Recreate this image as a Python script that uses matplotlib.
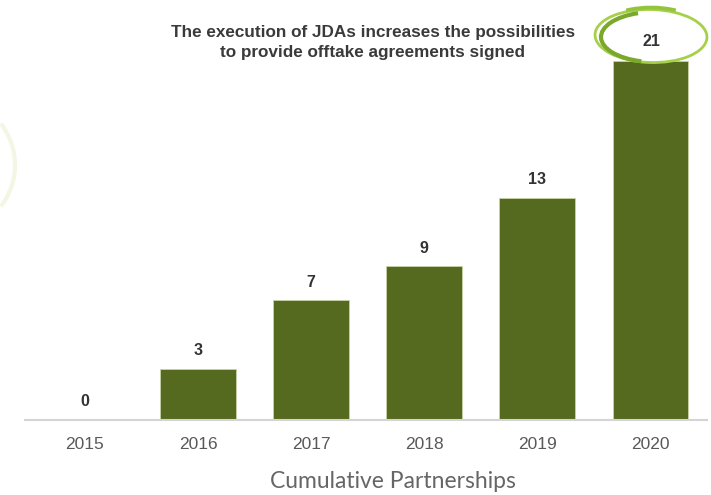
import matplotlib.pyplot as plt
from matplotlib.patches import Arc, Ellipse

years = ["2015", "2016", "2017", "2018", "2019", "2020"]
partnerships = [0, 3, 7, 9, 13, 21]

title_lines = [
    "The execution of JDAs increases the possibilities",
    "to provide offtake agreements signed",
]
x_label = "Cumulative Partnerships"

BAR_COLOR = "#556a1e"
SANS = ["Liberation Sans", "DejaVu Sans"]

W, H = 711, 495
fig = plt.figure(figsize=(W / 100, H / 100), dpi=100)
fig.patch.set_facecolor("white")

# faint watermark arc on the left edge
fig.patches.append(
    Arc((-70 / W, 1 - 165 / H), 170 / W, 150 / H, theta1=-40, theta2=40,
        transform=fig.transFigure, color="#f4f6e4", lw=3)
)

ax = fig.add_axes([25 / W, 75 / H, 682 / W, 400 / H])
positions = list(range(len(years)))
ax.bar(positions, partnerships, width=0.67, color=BAR_COLOR,
       edgecolor="#c9d3a8", linewidth=0.6, zorder=2)
ax.set_xlim(-0.53, 5.5)
ax.set_ylim(0, 23.4)

# last value sits inside the highlight ellipse, drawn further down
for pos, value in zip(positions[:-1], partnerships[:-1]):
    ax.annotate(str(value), (pos, value), xytext=(0, 13),
                textcoords="offset points", ha="center", va="center",
                fontsize=11.5, fontweight="bold", color="#333333",
                family=SANS, zorder=5)

ax.set_xticks(positions)
ax.set_xticklabels(years, family=SANS, fontsize=12.5, color="#595959")
ax.tick_params(axis="x", length=0, pad=12)
ax.set_yticks([])
for side in ["left", "right", "top"]:
    ax.spines[side].set_visible(False)
ax.spines["bottom"].set_color("#d4d4d4")
ax.spines["bottom"].set_linewidth(1.5)

# highlight swoosh around the last value
cx, cy = 651 / W, 1 - 36 / H
fig.patches.append(
    Ellipse((cx, cy), 112 / W, 53 / H, angle=-3, transform=fig.transFigure,
            facecolor="white", edgecolor="#a6d04a", lw=2.0, zorder=3)
)
fig.patches.append(
    Arc((cx + 3 / W, cy - 1 / H), 106 / W, 50 / H, theta1=115, theta2=250,
        transform=fig.transFigure, color="#7aa82a", lw=3.0, zorder=4)
)
fig.patches.append(
    Arc((cx, cy + 1 / H), 112 / W, 55 / H, theta1=55, theta2=125,
        transform=fig.transFigure, color="#93c43b", lw=2.6, zorder=4)
)
fig.text(cx, cy - 6 / H, str(partnerships[-1]), ha="center", va="center",
         fontsize=11.5, fontweight="bold", color="#333333", family=SANS,
         zorder=6)

fig.text(373 / W, 1 - 33 / H, title_lines[0], ha="center", va="center",
         fontsize=12.3, fontweight="bold", color="#3a3a3a", family=SANS)
fig.text(373 / W, 1 - 53 / H, title_lines[1], ha="center", va="center",
         fontsize=12.3, fontweight="bold", color="#3a3a3a", family=SANS)

fig.text(393 / W, 1 - 481 / H, x_label, ha="center", va="center",
         fontsize=16.5, color="#666666", family=["Lato", "DejaVu Sans"])

fig.savefig("out.png", dpi=100)
